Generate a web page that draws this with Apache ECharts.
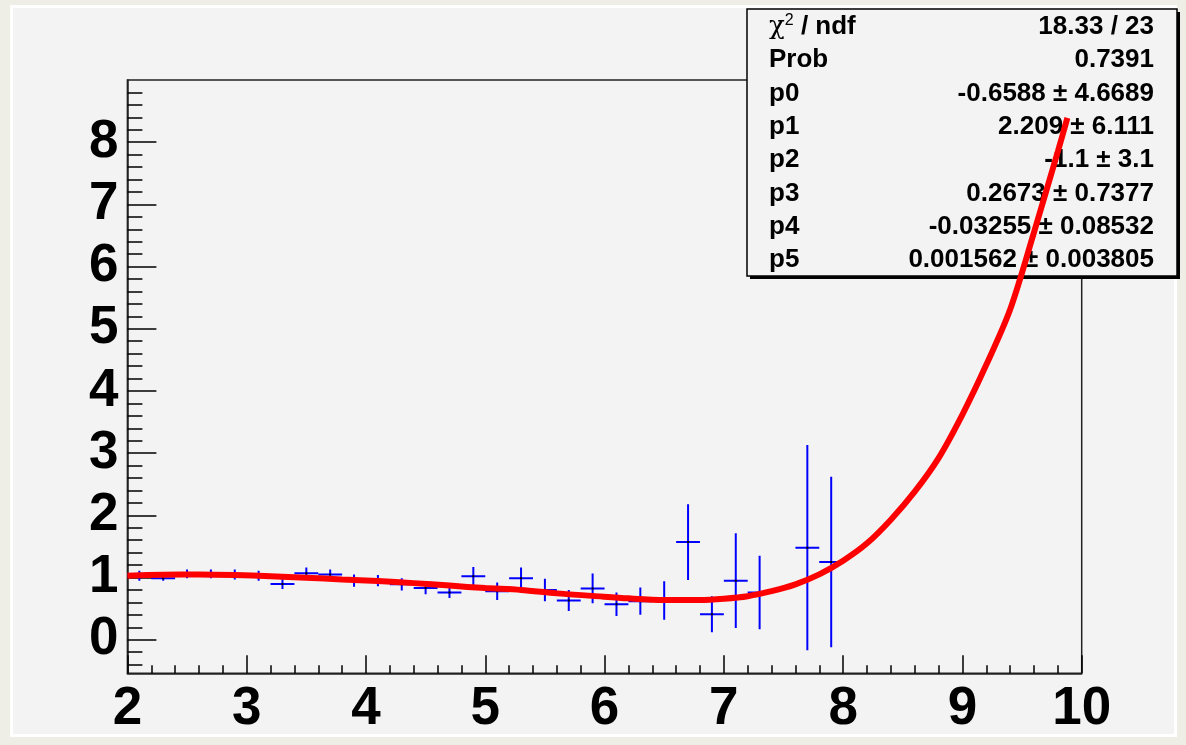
<!DOCTYPE html>
<html>
<head>
<meta charset="utf-8">
<title>pol5 fit</title>
<script src="https://cdn.jsdelivr.net/npm/echarts@6/dist/echarts.min.js"></script>
<style>
  html, body { margin: 0; padding: 0; width: 1186px; height: 745px; overflow: hidden; background: #eeede6; }
  #pad { position: absolute; left: 10px; top: 5px; width: 1167px; height: 732px; background: #f3f3f3; border: 3px solid #ffffff; box-sizing: border-box; }
  #chart { position: absolute; left: 0; top: 0; width: 1186px; height: 745px; }
</style>
</head>
<body>
<div id="pad"></div>
<div id="chart"></div>
<script>
// Histogram bins: centre, content, error
const binX = [2.1, 2.3, 2.5, 2.7, 2.9, 3.1, 3.3, 3.5, 3.7, 3.9, 4.1, 4.3, 4.5, 4.7, 4.9,
              5.1, 5.3, 5.5, 5.7, 5.9, 6.1, 6.3, 6.5, 6.7, 6.9, 7.1, 7.3, 7.7, 7.9];
const binY = [1.03, 0.99, 1.06, 1.06, 1.05, 1.03, 0.895, 1.07, 1.05, 0.95, 0.95, 0.89, 0.83, 0.76, 1.02,
              0.78, 0.99, 0.80, 0.63, 0.825, 0.57, 0.62, 0.63, 1.57, 0.41, 0.95, 0.76, 1.48, 1.25];
const binErr = [0.08, 0.04, 0.07, 0.07, 0.08, 0.08, 0.08, 0.09, 0.08, 0.10, 0.09, 0.10, 0.10, 0.09, 0.15,
                0.14, 0.17, 0.18, 0.17, 0.24, 0.19, 0.22, 0.31, 0.61, 0.29, 0.76, 0.59, 1.65, 1.37];
const binHalfWidth = 0.1;

// Fitted polynomial (pol5), sampled along x
const fitX = [2.0, 2.3, 2.6, 2.9, 3.2, 3.5, 3.8, 4.1, 4.4, 4.7, 5.0, 5.3, 5.6, 5.9, 6.2, 6.5, 6.8,
              7.0, 7.2, 7.4, 7.6, 7.8, 8.0, 8.2, 8.4, 8.6, 8.8, 9.0, 9.2, 9.4, 9.6, 9.8, 9.88];
const fitY = [1.03, 1.045, 1.05, 1.04, 1.02, 0.995, 0.97, 0.945, 0.91, 0.87, 0.83, 0.80, 0.745, 0.705, 0.665, 0.64, 0.64,
              0.66, 0.70, 0.78, 0.89, 1.05, 1.27, 1.55, 1.93, 2.38, 2.92, 3.62, 4.42, 5.31, 6.55, 7.85, 8.39];

// Axis ticks
const yMajorTicks = [0, 1, 2, 3, 4, 5, 6, 7, 8];
const yMinorTicks = [];
for (let v = -0.4; v <= 8.85; v += 0.2) {
  const r = Math.round(v * 10) / 10;
  if (Math.abs(r - Math.round(r)) > 1e-6) yMinorTicks.push(r);
}

// Fit statistics box
const statNames = ['{c|χ}{s|2} / ndf', 'Prob', 'p0', 'p1', 'p2', 'p3', 'p4', 'p5'];
const statValues = ['18.33 / 23', '0.7391', '-0.6588 ± 4.6689', '2.209 ± 6.111', '-1.1 ± 3.1',
                    '0.2673 ± 0.7377', '-0.03255 ± 0.08532', '0.001562 ± 0.003805'];

const FONT = '"Liberation Sans", Arial, Helvetica, sans-serif';
const chart = echarts.init(document.getElementById('chart'), null, { renderer: 'canvas' });

const box = { x: 747, y: 9, w: 430, h: 267, rowTop: 27, rowStep: 33.3, left: 769, right: 1154 };
const boxElems = [
  { type: 'rect', z: 1, shape: { x: box.x + 3, y: box.y + 3, width: box.w, height: box.h }, style: { fill: '#000' } },
  { type: 'rect', z: 1, shape: { x: box.x, y: box.y, width: box.w, height: box.h }, style: { fill: '#f3f3f3', stroke: '#000', lineWidth: 1.5 } }
];
statNames.forEach((name, i) => {
  const cy = box.rowTop + i * box.rowStep;
  boxElems.push({
    type: 'text', z: 1, x: box.left, y: cy,
    style: {
      text: name, fill: '#000', font: 'bold 26px ' + FONT, verticalAlign: 'middle', align: 'left',
      rich: {
        c: { font: '26px "DejaVu Serif", serif', fill: '#000', verticalAlign: 'middle' },
        s: { font: '16px ' + FONT, fill: '#000', verticalAlign: 'top', padding: [0, 0, 12, 0] }
      }
    }
  });
  boxElems.push({
    type: 'text', z: 1, x: box.right, y: cy,
    style: { text: statValues[i], fill: '#000', font: 'bold 26px ' + FONT, verticalAlign: 'middle', align: 'right' }
  });
});

const axisLabelStyle = { color: '#000', fontSize: 53, fontWeight: 'bold', fontFamily: FONT };

chart.setOption({
  animation: false,
  backgroundColor: 'transparent',
  grid: {
    left: 127.4, right: 104.3, top: 80, bottom: 71.7,
    show: true, borderColor: '#222', borderWidth: 1.5, backgroundColor: 'transparent',
    containLabel: false, outerBoundsMode: 'none'
  },
  xAxis: {
    type: 'value', min: 2, max: 10, interval: 1,
    axisLine: { show: true, onZero: false, lineStyle: { color: '#222', width: 1.5 } },
    axisTick: { show: true, inside: true, length: 18, lineStyle: { color: '#000', width: 1.5 } },
    minorTick: { show: true, splitNumber: 5, length: 8, lineStyle: { color: '#000', width: 1.5 } },
    splitLine: { show: false },
    axisLabel: Object.assign({ margin: 10 }, axisLabelStyle)
  },
  yAxis: [
    {
      type: 'value', min: -0.54, max: 9.0,
      axisLine: { show: true, onZero: false, lineStyle: { color: '#222', width: 1.5 } },
      axisTick: { show: true, inside: true, length: 29, customValues: yMajorTicks, lineStyle: { color: '#000', width: 1.5 } },
      axisLabel: Object.assign({ margin: 9, customValues: yMajorTicks }, axisLabelStyle),
      splitLine: { show: false }
    },
    {
      type: 'value', min: -0.54, max: 9.0, position: 'left',
      axisLine: { show: false, onZero: false },
      axisTick: { show: true, inside: true, length: 15, customValues: yMinorTicks, lineStyle: { color: '#000', width: 1.5 } },
      axisLabel: { show: false },
      splitLine: { show: false }
    }
  ],
  graphic: boxElems,
  series: [
    {
      type: 'custom',
      name: 'data',
      z: 2,
      clip: true,
      encode: { x: 0, y: 1 },
      data: binX.map((x, i) => [x, binY[i], binErr[i]]),
      renderItem: function (params, api) {
        const x = api.value(0), y = api.value(1), e = api.value(2);
        const c = api.coord([x, y]);
        const top = api.coord([x, y + e]);
        const bot = api.coord([x, y - e]);
        const l = api.coord([x - binHalfWidth, y]);
        const r = api.coord([x + binHalfWidth, y]);
        const st = { stroke: '#0000ff', lineWidth: 2 };
        return {
          type: 'group',
          children: [
            { type: 'line', shape: { x1: l[0], y1: c[1], x2: r[0], y2: c[1] }, style: st },
            { type: 'line', shape: { x1: c[0], y1: top[1], x2: c[0], y2: bot[1] }, style: st },
            { type: 'rect', shape: { x: c[0] - 1, y: c[1] - 1, width: 2, height: 2 }, style: { fill: '#000' } }
          ]
        };
      }
    },
    {
      type: 'line',
      name: 'pol5',
      z: 3,
      data: fitX.map((x, i) => [x, fitY[i]]),
      showSymbol: false,
      smooth: 0.3,
      lineStyle: { color: '#ff0000', width: 6 }
    }
  ]
});
</script>
</body>
</html>
